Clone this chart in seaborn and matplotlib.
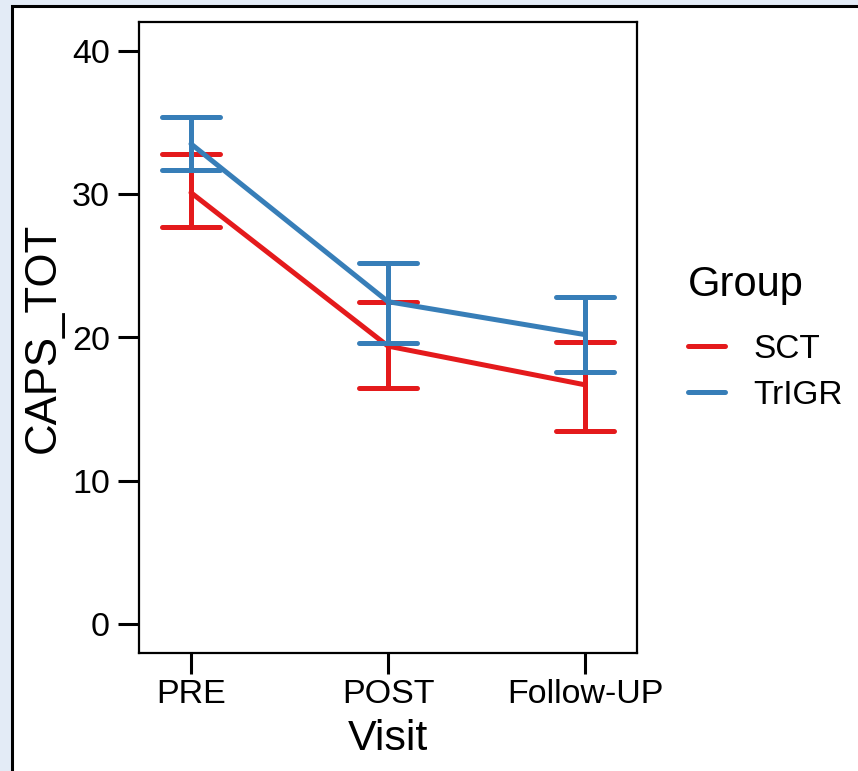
import matplotlib
matplotlib.use("Agg")
import matplotlib.pyplot as plt
import seaborn as sns
import pandas as pd
from matplotlib.patches import Rectangle
from matplotlib.lines import Line2D

visits = ["PRE", "POST", "Follow-UP"]
groups = ["SCT", "TrIGR"]
sct_mean = [30.1, 19.4, 16.7]
sct_low = [27.7, 16.5, 13.5]
sct_high = [32.8, 22.5, 19.7]
trigr_mean = [33.5, 22.5, 20.2]
trigr_low = [31.7, 19.6, 17.6]
trigr_high = [35.4, 25.2, 22.8]
colors = {"SCT": "#e41a1c", "TrIGR": "#377eb8"}

rows = []
for g, m, lo, hi in [("SCT", sct_mean, sct_low, sct_high), ("TrIGR", trigr_mean, trigr_low, trigr_high)]:
    for v, a, b, c in zip(visits, m, lo, hi):
        for val in (b, a, c):
            rows.append({"Visit": v, "Group": g, "CAPS_TOT": val})
df = pd.DataFrame(rows)

sns.set_style("white")
plt.rcParams["font.family"] = ["Liberation Sans", "DejaVu Sans"]
for k in ["text.color", "axes.labelcolor", "xtick.color", "ytick.color"]:
    plt.rcParams[k] = "black"

fig = plt.figure(figsize=(8.58, 7.71), dpi=100)
fig.patch.set_facecolor("#e3ebf6")
fig.patches.append(Rectangle((12 / 858, -0.1), 1.2, 1 - 6 / 771 + 0.1, transform=fig.transFigure,
                             facecolor="white", edgecolor="black", linewidth=2.2, zorder=-10))
ax = fig.add_axes([139 / 858, 1 - 653 / 771, (637 - 139) / 858, (653 - 22) / 771])
ax.set_zorder(5)

sns.pointplot(data=df, x="Visit", y="CAPS_TOT", hue="Group", order=visits, hue_order=groups,
              palette=colors, estimator="median", errorbar=lambda x: (x.min(), x.max()),
              markers="", capsize=0.29, dodge=False, linewidth=3.6, err_kws={"linewidth": 3.6},
              ax=ax, legend=False)

ax.set_ylim(-2, 42)
ax.set_xlim(-0.264, 2.264)
ax.set_yticks([0, 10, 20, 30, 40])
for s in ax.spines.values():
    s.set_visible(True)
    s.set_linewidth(1.6)
    s.set_color("black")
ax.tick_params(axis="both", length=15, width=2.2, color="black", labelcolor="black",
               labelsize=24.5, pad=6, left=True, bottom=True)
ax.tick_params(axis="x", pad=4)
ax.set_xlabel("Visit", fontsize=31, labelpad=6)
ax.set_ylabel("CAPS_TOT", fontsize=31.5, labelpad=6)

handles = [Line2D([0], [0], color=colors[g], lw=3.6) for g in groups]
leg = fig.legend(handles, groups, title="Group", loc="center left",
                 bbox_to_anchor=(688 / 858, 1 - 338 / 771), bbox_transform=fig.transFigure,
                 frameon=False, fontsize=24, title_fontsize=30, handlelength=1.1, handletextpad=0.85,
                 labelspacing=0.45, borderpad=0, borderaxespad=0)
leg._legend_box.align = "left"
leg._legend_box.sep = 0.45 * 24 + 10

fig.savefig("out.png", dpi=100, facecolor=fig.get_facecolor())
